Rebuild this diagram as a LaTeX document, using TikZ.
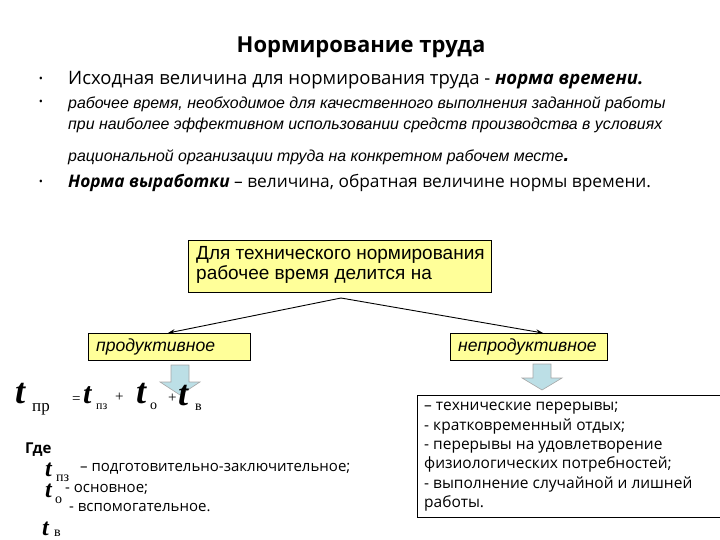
\documentclass[tikz,border=0pt]{standalone}
\usepackage{fontspec}
\setmainfont{Open Sans}
\newfontfamily\arialf{Liberation Sans}
\newfontfamily\timesf{Liberation Serif}
\usetikzlibrary{arrows.meta}
\definecolor{boxyellow}{HTML}{FFFF99}
\definecolor{arrblue}{HTML}{BCDFE6}
\tikzset{
  yelbox/.style={draw=black, fill=boxyellow, line width=0.8pt, inner sep=0pt},
  txt/.style={anchor=west, inner sep=0pt},
  conn/.style={-{Stealth[length=7pt,width=5pt]}, line width=0.9pt},
  blockarr/.style={draw=gray!70, fill=arrblue, line width=0.6pt},
  tv/.style={anchor=base west, inner sep=0pt, text height=0.58em, text depth=0pt, font=\timesf\bfseries\itshape\fontsize{#1}{#1}\selectfont},
  ts/.style={anchor=base west, inner sep=0pt, text height=0.5em, text depth=0.15em, font=\timesf\fontsize{#1}{#1}\selectfont},
}
\begin{document}
\begin{tikzpicture}[x=1pt,y=-1pt]
\useasboundingbox (0,0) rectangle (720,540);
% title
\node[inner sep=0pt] (title) at (361,47) {\fontsize{22}{24}\selectfont\bfseries Нормирование труда};
% bullets
\foreach \yy/\nm in {80/b1,103/b2,183/b3}
  \node[inner sep=0pt] (\nm) at (41,\yy) {\fontsize{11}{11}\selectfont •};
\node[txt] (l1) at (68,80) {\fontsize{18.5}{20}\selectfont Исходная величина для нормирования труда - \textbf{\itshape норма времени.}};
\node[txt] (l2) at (68,104) {\arialf\itshape\fontsize{15.9}{18}\selectfont рабочее время, необходимое для качественного выполнения заданной работы};
\node[txt] (l3) at (68,125) {\arialf\itshape\fontsize{15.9}{18}\selectfont при наиболее эффективном использовании средств производства в условиях};
\node[txt] (l4) at (68,157) {\arialf\itshape\fontsize{15.9}{18}\selectfont рациональной организации труда на конкретном рабочем месте\textbf{\fontsize{20}{20}\selectfont .}};
\node[txt] (l5) at (68,183) {\fontsize{17.3}{20}\selectfont \textbf{\itshape Норма выработки} – величина, обратная величине нормы времени.};
% top box
\node[yelbox, minimum width=303pt, minimum height=52pt, anchor=north west] (top) at (188,240) {};
\node[txt, align=left, anchor=north west, font=\arialf\fontsize{19}{20.5}\selectfont] (toptxt) at (196,246) {Для технического нормирования\\рабочее время делится на};
% level 2 boxes
\node[yelbox, minimum width=162pt, minimum height=27pt, anchor=north west] (prod) at (88,333) {};
\node[txt] (prodtxt) at (96,346.5) {\arialf\itshape\fontsize{17.6}{18}\selectfont продуктивное};
\node[yelbox, minimum width=157pt, minimum height=27pt, anchor=north west] (nprod) at (450,333) {};
\node[txt] (nprodtxt) at (458,346.5) {\arialf\itshape\fontsize{17.6}{18}\selectfont непродуктивное};
% connectors
\coordinate (apex) at (341,298);
\draw[conn] (apex) -- (168,333);
\draw[conn] (apex) -- (543,333);
% block arrows
\draw[blockarr] (171,365) -- (189,365) -- (189,382) -- (200,382) -- (180,395) -- (160,382) -- (171,382) -- cycle;
\draw[blockarr] (533,364) -- (551,364) -- (551,378) -- (562,378) -- (542,390) -- (522,378) -- (533,378) -- cycle;
% formula
\node[tv=36] (tpr) at (15,403) {t};
\node[ts=17] (tprs) at (32,411) {пр};
\node[ts=15] (eq) at (72,403) {=};
\node[tv=30] (f1) at (83,403) {t};
\node[ts=12] (f1s) at (96,409) {пз};
\node[ts=15] (p1) at (115,401) {+};
\node[tv=36] (f2) at (136,403) {t};
\node[ts=14] (f2s) at (150,409) {о};
\node[ts=15] (p2) at (168,402) {+};
\node[tv=36] (f3) at (178,405) {t};
\node[ts=14] (f3s) at (195,410) {в};
% where
\node[txt] (gde) at (25,450) {\fontsize{15}{16}\selectfont\bfseries Где};
\node[tv=24] (t1) at (45,476) {t};
\node[ts=14] (t1s) at (56,481) {пз};
\node[txt] (d1) at (80,469) {\fontsize{15}{16}\selectfont – подготовительно-заключительное;};
\node[tv=24] (t2) at (45,497) {t};
\node[ts=14] (t2s) at (55,503) {о};
\node[txt] (d2) at (65,489) {\fontsize{15}{16}\selectfont - основное;};
\node[txt] (d3) at (69,508) {\fontsize{15}{16}\selectfont - вспомогательное.};
\node[tv=24] (t3) at (42,535) {t};
\node[ts=14] (t3s) at (54,536) {в};
% right list box
\node[draw=black, line width=0.8pt, minimum width=303pt, minimum height=122pt, anchor=north west, inner sep=0pt] (list) at (417,395) {};
\node[txt, align=left, anchor=north west, font=\fontsize{15.5}{19.4}\selectfont] (listtxt) at (424,402) {– технические перерывы;\\- кратковременный отдых;\\- перерывы на удовлетворение\\физиологических потребностей;\\- выполнение случайной и лишней\\работы.};
\end{tikzpicture}
\end{document}
